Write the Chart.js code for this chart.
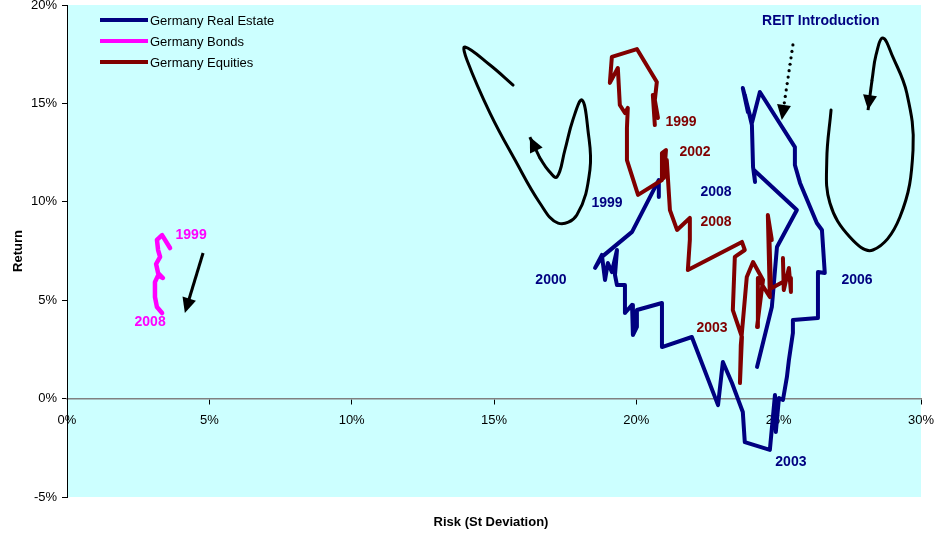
<!DOCTYPE html>
<html>
<head>
<meta charset="utf-8">
<script src="https://cdn.jsdelivr.net/npm/chart.js@4.4.0/dist/chart.umd.min.js"></script>
<style>
html, body { margin: 0; padding: 0; background: #fff; }
</style>
</head>
<body>
<canvas id="riskReturnChart" width="937" height="534"></canvas>
<script>
// rolling risk (x, %) / return (y, %) paths
var realEstateRisk = [20.79, 20.79, 19.85, 18.79, 18.55, 18.79, 18.90, 19.00, 19.14, 19.32, 19.25, 19.32, 19.60, 19.60, 19.85, 19.88, 20.02, 20.02, 20.90, 20.90, 21.95, 22.87, 23.04, 23.36, 23.74, 23.81, 24.69, 24.87, 24.90, 25.01, 25.15, 25.29, 25.36, 25.50, 25.50, 26.38, 26.38, 26.62, 26.52, 26.34, 25.75, 25.57, 25.57, 24.34, 24.06, 23.74, 23.92, 23.81, 24.06, 24.10, 24.17, 24.13, 25.64, 24.94, 24.76, 24.24];
var realEstateReturn = [10.25, 11.11, 8.47, 7.20, 6.64, 7.30, 6.03, 6.89, 6.43, 7.55, 6.28, 5.77, 5.77, 4.35, 4.76, 3.23, 3.64, 4.50, 4.86, 2.62, 3.13, -0.33, 1.86, 0.79, -0.68, -2.21, -2.61, 0.18, -1.70, 0.03, -0.07, 1.10, 1.96, 3.33, 3.99, 4.10, 6.43, 6.38, 8.57, 8.92, 10.96, 11.87, 12.78, 15.58, 14.00, 15.78, 14.56, 15.43, 13.90, 11.77, 11.01, 11.62, 9.58, 7.70, 4.65, 1.61];

var bondsRisk = [3.62, 3.34, 3.16, 3.20, 3.27, 3.13, 3.20, 3.37, 3.20, 3.09, 3.09, 3.16, 3.34];
var bondsReturn = [7.65, 8.31, 8.06, 7.55, 7.20, 6.84, 6.38, 6.13, 6.26, 5.92, 5.16, 4.65, 4.35];

var equitiesRisk = [20.65, 20.58, 20.76, 20.65, 20.72, 20.02, 19.14, 19.07, 19.35, 19.42, 19.60, 19.70, 19.67, 19.67, 20.06, 20.90, 20.90, 21.04, 20.97, 21.07, 21.18, 21.43, 21.88, 21.88, 21.81, 23.71, 23.81, 23.46, 23.39, 23.71, 23.64, 23.67, 23.88, 24.10, 24.45, 24.24, 24.27, 24.69, 24.62, 24.76, 24.66, 24.73, 25.40, 25.43, 25.36, 25.18, 25.15];
var equitiesReturn = [13.90, 15.43, 14.26, 15.17, 16.09, 17.76, 17.36, 16.04, 16.80, 14.92, 14.51, 14.77, 13.75, 12.12, 10.35, 11.11, 12.48, 12.63, 11.21, 12.12, 9.58, 8.57, 9.18, 8.06, 6.53, 7.96, 7.55, 7.20, 4.50, 3.13, 0.79, 2.72, 6.18, 6.94, 6.03, 3.64, 6.13, 5.16, 9.33, 8.06, 8.82, 5.60, 6.13, 5.42, 6.64, 5.52, 7.14];

var seriesNames = ['Germany Real Estate', 'Germany Bonds', 'Germany Equities'];
var seriesColors = ['#000080', '#FF00FF', '#800000'];

// year labels (text, risk, return)
var realEstateYears = ['1999', '2000', '2008', '2006', '2003'];
var realEstateYearRisk = [18.97, 17.00, 22.80, 27.75, 25.43];
var realEstateYearReturn = [9.94, 6.03, 10.50, 6.03, -3.22];
var equitiesYears = ['1999', '2002', '2008', '2003'];
var equitiesYearRisk = [21.57, 22.06, 22.80, 22.66];
var equitiesYearReturn = [14.05, 12.53, 8.97, 3.59];
var bondsYears = ['1999', '2008'];
var bondsYearRisk = [4.36, 2.92];
var bondsYearReturn = [8.31, 3.89];

// hand drawn arrows (in chart units)
var leftLoopRisk = [15.67, 14.86, 13.98, 14.05, 14.86, 15.74, 16.61, 17.25, 17.91, 18.37, 18.30, 18.09, 17.77, 17.49, 17.21, 16.90, 16.61];
var leftLoopReturn = [15.93, 16.95, 17.87, 17.21, 14.51, 12.12, 9.94, 8.92, 9.33, 11.62, 13.65, 15.17, 14.16, 12.63, 11.26, 11.62, 12.23];
var leftLoopTip = [16.26, 13.29];
var rightLoopRisk = [26.84, 26.69, 26.80, 27.50, 28.31, 29.26, 29.72, 29.50, 29.01, 28.66, 28.42, 28.28];
var rightLoopReturn = [14.66, 12.12, 9.94, 8.21, 7.55, 9.23, 12.63, 15.53, 17.36, 18.32, 17.46, 16.19];
var rightLoopTip = [28.14, 14.66];
var bondsArrow = [[4.78, 7.40], [4.14, 4.35]];
var reitArrow = [[25.50, 17.97], [25.11, 14.16]];
var reitNote = ['REIT Introduction', 26.48, 19.19];

function toPoints(xs, ys) {
    return xs.map(function (x, i) { return { x: x, y: ys[i] }; });
}

var FONT = '"Liberation Sans", Arial, sans-serif';

function arrowHead(ctx, fx, fy, tx, ty, len, half) {
    var a = Math.atan2(ty - fy, tx - fx);
    ctx.beginPath();
    ctx.moveTo(tx, ty);
    ctx.lineTo(tx - len * Math.cos(a) + half * Math.sin(a), ty - len * Math.sin(a) - half * Math.cos(a));
    ctx.lineTo(tx - len * Math.cos(a) - half * Math.sin(a), ty - len * Math.sin(a) + half * Math.cos(a));
    ctx.closePath();
    ctx.fill();
}

// no extra room for overflowing tick labels, the layout padding decides
function noLabelPadding(scale) {
    scale.paddingTop = 0;
    scale.paddingBottom = 0;
    scale.paddingLeft = 0;
    scale.paddingRight = 0;
}

var plotBackground = {
    id: 'plotBackground',
    beforeDraw: function (chart) {
        var a = chart.chartArea, ctx = chart.ctx;
        ctx.save();
        ctx.fillStyle = '#CCFFFF';
        ctx.fillRect(a.left, a.top, a.right - a.left, a.bottom - a.top);
        ctx.restore();
    }
};

var notes = {
    id: 'notes',
    afterDatasetsDraw: function (chart) {
        var ctx = chart.ctx, sx = chart.scales.x, sy = chart.scales.y, a = chart.chartArea;
        function px(x) { return sx.getPixelForValue(x); }
        function py(y) { return sy.getPixelForValue(y); }
        ctx.save();

        // loop arrow heads
        ctx.fillStyle = '#000';
        ctx.strokeStyle = '#000';
        ctx.lineWidth = 3;
        var n = leftLoopRisk.length - 1;
        ctx.beginPath();
        ctx.moveTo(px(leftLoopRisk[n]), py(leftLoopReturn[n]));
        ctx.lineTo(px(leftLoopTip[0]), py(leftLoopTip[1]));
        ctx.stroke();
        arrowHead(ctx, px(leftLoopRisk[n]), py(leftLoopReturn[n]), px(leftLoopTip[0]), py(leftLoopTip[1]), 15, 7);
        n = rightLoopRisk.length - 1;
        ctx.beginPath();
        ctx.moveTo(px(rightLoopRisk[n]), py(rightLoopReturn[n]));
        ctx.lineTo(px(rightLoopTip[0]), py(rightLoopTip[1]));
        ctx.stroke();
        arrowHead(ctx, px(rightLoopRisk[n]), py(rightLoopReturn[n]), px(rightLoopTip[0]), py(rightLoopTip[1]), 15, 7);

        // straight arrow next to bonds
        var bx0 = px(bondsArrow[0][0]), by0 = py(bondsArrow[0][1]);
        var bx1 = px(bondsArrow[1][0]), by1 = py(bondsArrow[1][1]);
        ctx.beginPath();
        ctx.moveTo(bx0, by0);
        ctx.lineTo(bx0 + (bx1 - bx0) * 0.8, by0 + (by1 - by0) * 0.8);
        ctx.stroke();
        arrowHead(ctx, bx0, by0, bx1, by1, 15, 7);

        // dotted REIT arrow
        var rx0 = px(reitArrow[0][0]), ry0 = py(reitArrow[0][1]);
        var rx1 = px(reitArrow[1][0]), ry1 = py(reitArrow[1][1]);
        var len = Math.hypot(rx1 - rx0, ry1 - ry0) - 14;
        for (var d = 0; d < len; d += 6.5) {
            ctx.beginPath();
            ctx.arc(rx0 + (rx1 - rx0) * d / (len + 14), ry0 + (ry1 - ry0) * d / (len + 14), 1.6, 0, Math.PI * 2);
            ctx.fill();
        }
        arrowHead(ctx, rx0, ry0, rx1, ry1, 15, 7);

        // year labels
        ctx.font = 'bold 14px ' + FONT;
        ctx.textAlign = 'center';
        ctx.textBaseline = 'middle';
        ctx.fillStyle = seriesColors[0];
        realEstateYears.forEach(function (t, i) { ctx.fillText(t, px(realEstateYearRisk[i]), py(realEstateYearReturn[i])); });
        ctx.fillText(reitNote[0], px(reitNote[1]), py(reitNote[2]));
        ctx.fillStyle = seriesColors[2];
        equitiesYears.forEach(function (t, i) { ctx.fillText(t, px(equitiesYearRisk[i]), py(equitiesYearReturn[i])); });
        ctx.fillStyle = seriesColors[1];
        bondsYears.forEach(function (t, i) { ctx.fillText(t, px(bondsYearRisk[i]), py(bondsYearReturn[i])); });

        // legend, top left inside plot
        ctx.font = '13px ' + FONT;
        ctx.textAlign = 'left';
        seriesNames.forEach(function (name, i) {
            var y = a.top + 15 + i * 21;
            ctx.strokeStyle = seriesColors[i];
            ctx.lineWidth = 4;
            ctx.beginPath();
            ctx.moveTo(a.left + 33, y);
            ctx.lineTo(a.left + 81, y);
            ctx.stroke();
            ctx.fillStyle = '#000';
            ctx.fillText(name, a.left + 83, y + 1);
        });

        // axis titles
        ctx.font = 'bold 13px ' + FONT;
        ctx.textAlign = 'center';
        ctx.fillText('Risk (St Deviation)', (a.left + a.right) / 2 - 3, 522);
        ctx.translate(18, (a.top + a.bottom) / 2);
        ctx.rotate(-Math.PI / 2);
        ctx.fillText('Return', 0, 0);
        ctx.restore();
    }
};

function pathDataset(label, xs, ys, color, width, tension, order) {
    return {
        label: label,
        data: toPoints(xs, ys),
        showLine: true,
        borderColor: color,
        backgroundColor: color,
        borderWidth: width,
        pointRadius: 0,
        tension: tension,
        borderJoinStyle: 'round',
        borderCapStyle: 'round',
        order: order
    };
}

var ctx = document.getElementById('riskReturnChart').getContext('2d');
var chart = new Chart(ctx, {
    type: 'scatter',
    data: {
        datasets: [
            pathDataset(seriesNames[0], realEstateRisk, realEstateReturn, seriesColors[0], 4, 0, 3),
            pathDataset(seriesNames[1], bondsRisk, bondsReturn, seriesColors[1], 4.5, 0, 2),
            pathDataset(seriesNames[2], equitiesRisk, equitiesReturn, seriesColors[2], 4, 0, 1),
            pathDataset('left loop', leftLoopRisk, leftLoopReturn, '#000', 3, 0.4, 0),
            pathDataset('right loop', rightLoopRisk, rightLoopReturn, '#000', 3, 0.4, 0)
        ]
    },
    options: {
        responsive: false,
        animation: false,
        devicePixelRatio: 1,
        layout: { padding: { left: 0, top: 5, right: 16, bottom: 37 } },
        plugins: {
            legend: { display: false },
            tooltip: { enabled: false }
        },
        scales: {
            x: {
                type: 'linear',
                min: 0,
                max: 30,
                position: { y: 0 },
                ticks: {
                    stepSize: 5,
                    padding: 9,
                    color: '#000',
                    font: { family: FONT, size: 13 },
                    callback: function (v) { return v + '%'; }
                },
                grid: { drawOnChartArea: false, drawTicks: true, tickLength: 5, color: '#000' },
                border: { color: '#808080', width: 1.5 },
                afterFit: noLabelPadding
            },
            y: {
                min: -5,
                max: 20,
                position: 'left',
                ticks: {
                    stepSize: 5,
                    padding: 5,
                    color: '#000',
                    font: { family: FONT, size: 13 },
                    callback: function (v) { return v + '%'; }
                },
                grid: { drawOnChartArea: false, drawTicks: true, tickLength: 5, color: '#000' },
                border: { color: '#000', width: 1 },
                afterFit: function (scale) {
                    noLabelPadding(scale);
                    scale.width = 67;
                }
            }
        }
    },
    plugins: [plotBackground, notes]
});
</script>
</body>
</html>
